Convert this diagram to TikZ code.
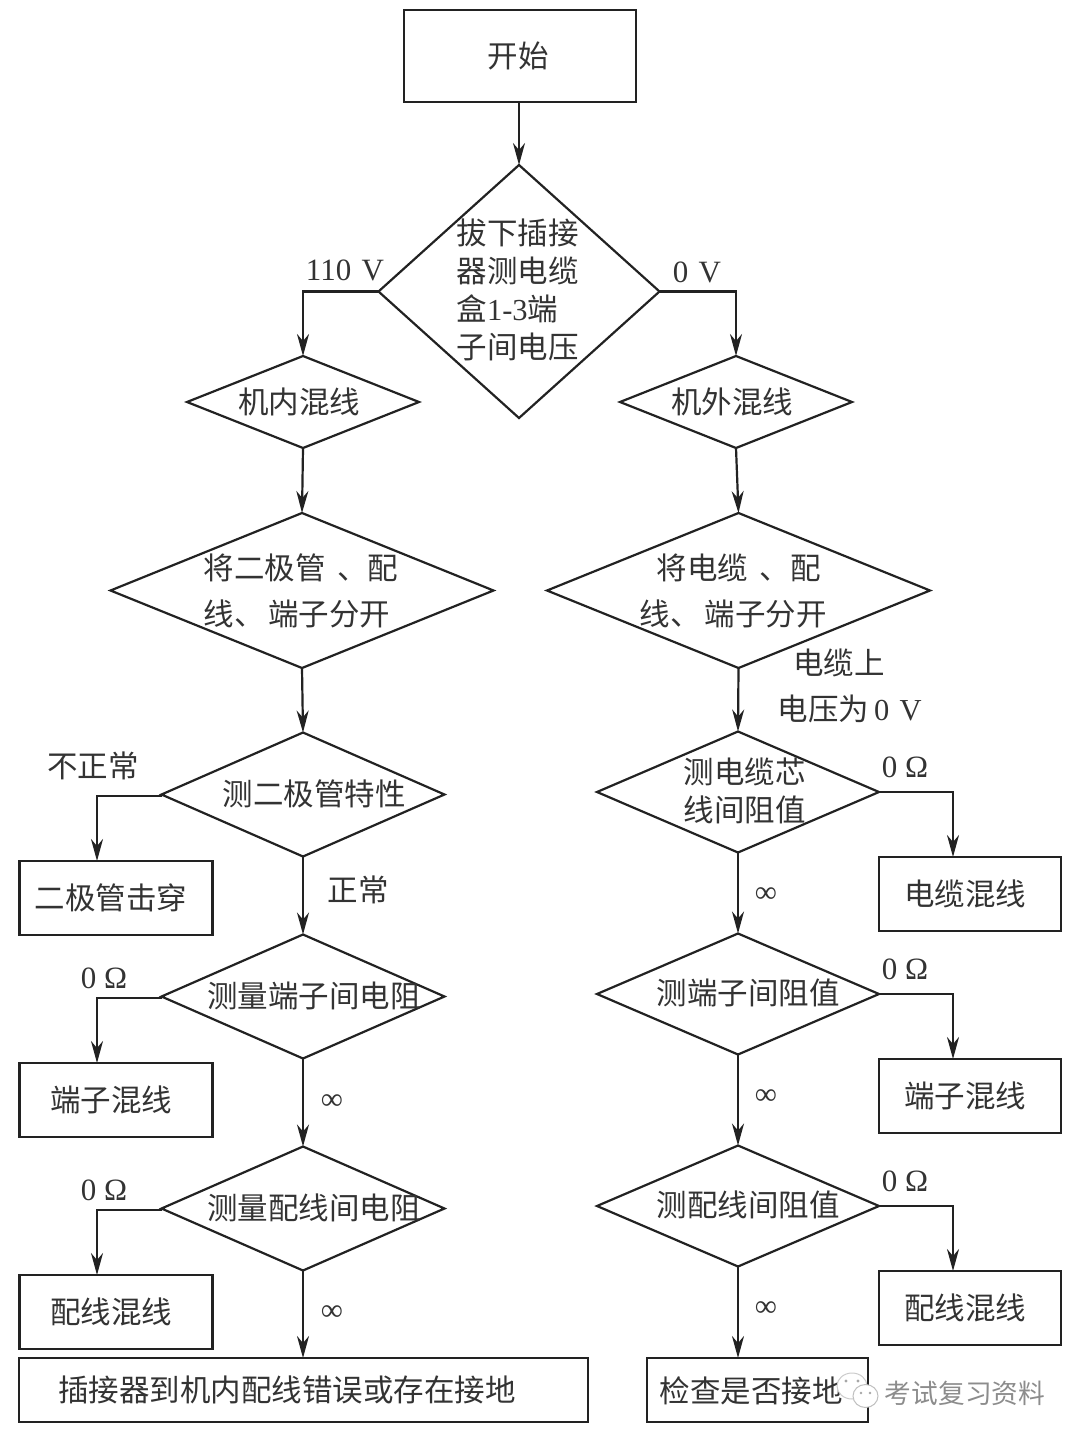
\documentclass[tikz,border=0pt]{standalone}
\usepackage{fontspec}
\setmainfont{Liberation Serif}
\newfontfamily\cjk{Noto Sans CJK SC}
\usetikzlibrary{shapes.geometric,arrows.meta}
\definecolor{ink}{HTML}{222222}
\definecolor{tink}{HTML}{333333}
\tikzset{
  diam/.style={diamond,draw=ink,line width=2.2pt,inner sep=0pt,outer sep=0pt,minimum width=#1},
  boxn/.style={rectangle,draw=ink,line width=2.2pt,inner sep=0pt,outer sep=0pt},
  txt/.style={inner sep=0pt,outer sep=0pt,text=tink,align=left,font=\fontsize{30.5}{38}\selectfont\cjk},
  lbl/.style={inner sep=0pt,outer sep=0pt,text=tink,font=\fontsize{31}{36}\selectfont},
  conn/.style={draw=ink,line width=2.2pt,-{Stealth[length=22pt,width=12pt,inset=7pt]}}
}
\begin{document}
\begin{tikzpicture}[x=1pt,y=-1pt]
\useasboundingbox (0,0) rectangle (1080,1440);
% boxes
\node[boxn,minimum width=232pt,minimum height=92pt] (start) at (520,56) {};
\node[boxn,minimum width=193pt,minimum height=74pt] (b1) at (116,898) {};
\node[boxn,minimum width=193pt,minimum height=74pt] (b2) at (116,1100) {};
\node[boxn,minimum width=193pt,minimum height=74pt] (b3) at (116,1312) {};
\node[boxn,minimum width=569pt,minimum height=64pt] (bot) at (303.5,1390) {};
\node[boxn,minimum width=182pt,minimum height=74pt] (c1) at (970,894) {};
\node[boxn,minimum width=182pt,minimum height=74pt] (c2) at (970,1096) {};
\node[boxn,minimum width=182pt,minimum height=74pt] (c3) at (970,1308) {};
\node[boxn,minimum width=221pt,minimum height=64pt] (chk) at (757.5,1390) {};
% diamonds
\node[diam=281pt,minimum height=253pt] (d0) at (519,291.5) {};
\node[diam=232pt,minimum height=92pt] (l1) at (303,402) {};
\node[diam=232pt,minimum height=92pt] (r1) at (736,402) {};
\node[diam=383pt,minimum height=155pt] (l2) at (302,590.5) {};
\node[diam=383pt,minimum height=155pt] (r2) at (738.5,590.5) {};
\node[diam=283pt,minimum height=124pt] (l3) at (303,794.5) {};
\node[diam=283pt,minimum height=124pt] (l4) at (303,996.5) {};
\node[diam=283pt,minimum height=124pt] (l5) at (303,1208.5) {};
\node[diam=282pt,minimum height=121pt] (r3) at (738,792) {};
\node[diam=282pt,minimum height=121pt] (r4) at (738,994) {};
\node[diam=282pt,minimum height=121pt] (r5) at (738,1206) {};
% connectors
\draw[conn] (start.south -| d0.north) -- (d0.north);
\draw[conn] (d0.west) -| (l1.north);
\draw[conn] (d0.east) -| (r1.north);
\draw[conn] (l1.south) -- (l2.north);
\draw[conn] (r1.south) -- (r2.north);
\draw[conn] (l2.south) -- (l3.north);
\draw[conn] (r2.south) -- (r3.north);
\draw[conn] (l3.south) -- (l4.north);
\draw[conn] (l4.south) -- (l5.north);
\draw[conn] (l5.south) -- (l5.south |- bot.north);
\draw[conn] (r3.south) -- (r4.north);
\draw[conn] (r4.south) -- (r5.north);
\draw[conn] (r5.south) -- (r5.south |- chk.north);
\draw[conn] ([yshift=-1.5pt]l3.west) -| ([xshift=-19pt]b1.north);
\draw[conn] ([yshift=-1.5pt]l4.west) -| ([xshift=-19pt]b2.north);
\draw[conn] ([yshift=-1.5pt]l5.west) -| ([xshift=-19pt]b3.north);
\draw[conn] (r3.east) -| ([xshift=-17pt]c1.north);
\draw[conn] (r4.east) -| ([xshift=-17pt]c2.north);
\draw[conn] (r5.east) -| ([xshift=-17pt]c3.north);
% node texts
\node[txt] (t0) at (518,56) {开始};
\node[txt,anchor=west] (td0) at (456.5,290) {拔下插接\\器测电缆\\盒{\rmfamily 1-3}端\\子间电压};
\node[txt] (tl1) at (299,402) {机内混线};
\node[txt] (tr1) at (732,402) {机外混线};
\node[txt,anchor=west] (tl2a) at (203.5,568) {将二极管\hspace{12pt}、配};
\node[txt,anchor=west] (tl2b) at (203.5,614) {线、\hspace{4pt}端子分开};
\node[txt,anchor=west] (tr2a) at (656.5,568) {将电缆\hspace{12pt}、配};
\node[txt,anchor=west] (tr2b) at (639.5,614) {线、\hspace{4pt}端子分开};
\node[txt] (tl3) at (314,794) {测二极管特性};
\node[txt] (tl4) at (314,996) {测量端子间电阻};
\node[txt] (tl5) at (314,1208) {测量配线间电阻};
\node[txt,anchor=west] (tr3) at (683.5,791) {测电缆芯\\线间阻值};
\node[txt] (tr4) at (748,993) {测端子间阻值};
\node[txt] (tr5) at (748,1205) {测配线间阻值};
\node[txt] (tb1) at (111,898) {二极管击穿};
\node[txt] (tb2) at (111,1100) {端子混线};
\node[txt] (tb3) at (111,1312) {配线混线};
\node[txt] (tbot) at (287,1390) {插接器到机内配线错误或存在接地};
\node[txt] (tc1) at (965,894) {电缆混线};
\node[txt] (tc2) at (965,1096) {端子混线};
\node[txt] (tc3) at (965,1308) {配线混线};
\node[txt] (tchk) at (751,1391) {检查是否接地};
% edge labels
\node[lbl] (e1) at (345,270) {110\,\,V};
\node[lbl] (e2) at (697,272) {0\,\,V};
\node[txt] (e3) at (839,663) {电缆上};
\node[txt,anchor=west] (e4) at (777.5,709) {电压为{\rmfamily\,0\,\,V}};
\node[txt] (e5) at (93,766) {不正常};
\node[txt] (e6) at (358,890) {正常};
\node[lbl] (e7) at (104,978) {0 Ω};
\node[lbl] (e8) at (104,1190) {0 Ω};
\node[lbl] (e9) at (905,767) {0 Ω};
\node[lbl] (e10) at (905,969) {0 Ω};
\node[lbl] (e11) at (905,1181) {0 Ω};
\node[lbl] (e12) at (332,1102) {∞};
\node[lbl] (e13) at (332,1313) {∞};
\node[lbl] (e14) at (766,895) {∞};
\node[lbl] (e15) at (766,1097) {∞};
\node[lbl] (e16) at (766,1309) {∞};
% watermark
\fill[white,draw=black!20,line width=1pt] (852,1386) circle[x radius=15pt,y radius=13pt];
\fill[white,draw=black!25,line width=1pt] (865.5,1396) circle[x radius=12.5pt,y radius=11.5pt];
\fill[black!35] (846,1381) circle (1.6pt) (858,1381) circle (1.6pt) (861,1393) circle (1.3pt) (870,1393) circle (1.3pt);
\node[inner sep=0pt,text=black!45,font=\fontsize{26.7}{30}\selectfont\cjk] (wm) at (965,1393) {考试复习资料};
\end{tikzpicture}
\end{document}
